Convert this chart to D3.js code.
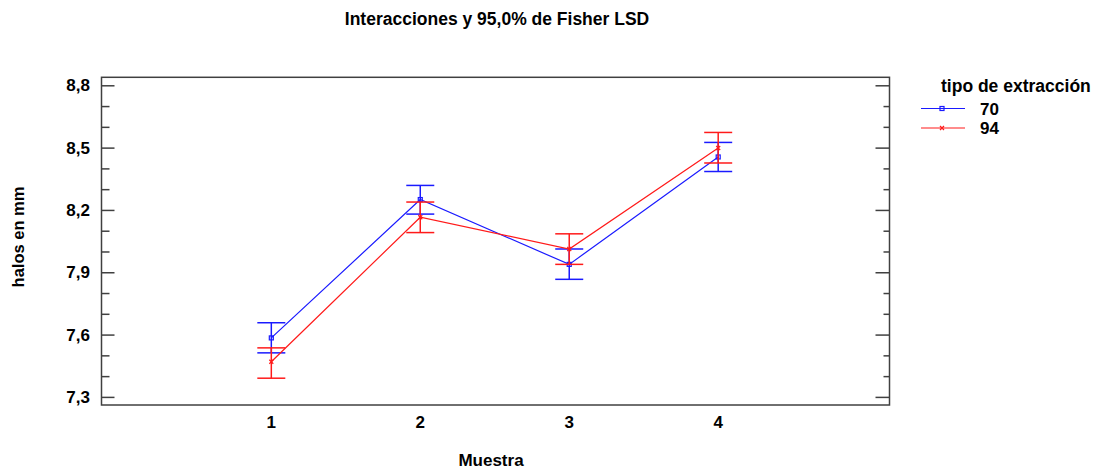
<!DOCTYPE html>
<html>
<head>
<meta charset="utf-8">
<script src="https://cdn.jsdelivr.net/npm/d3@7"></script>
<style>
  body { margin: 0; background: #fff; }
  text { font-family: "Liberation Sans", Arial, sans-serif; font-weight: bold; fill: #000; }
</style>
</head>
<body>
<svg id="chart" width="1101" height="470"></svg>
<script>
// data
const muestras = [1, 2, 3, 4]
const mean70 = [7.584, 8.250, 7.938, 8.455]
const low70 = [7.512, 8.180, 7.866, 8.385]
const high70 = [7.657, 8.318, 8.012, 8.525]
const mean94 = [7.469, 8.165, 8.012, 8.498]
const low94 = [7.390, 8.091, 7.938, 8.426]
const high94 = [7.536, 8.238, 8.085, 8.573]
const yTicks = [7.3, 7.6, 7.9, 8.2, 8.5, 8.8]

const blue = '#1a1aff', red = '#ff1a1a', axisColor = '#404040'
const svg = d3.select('#chart')

const x = d3.scaleLinear().domain([-0.14, 5.15]).range([101.5, 889.5])
const y = d3.scaleLinear().domain([7.261, 8.8385]).range([405, 77.3])

const fmt = d => d3.format('.1f')(d).replace('.', ',')

// box
svg.append('rect')
    .attr('x', x.range()[0]).attr('y', y.range()[1])
    .attr('width', x.range()[1] - x.range()[0])
    .attr('height', y.range()[0] - y.range()[1])
    .attr('fill', 'none').attr('stroke', axisColor).attr('stroke-width', 1.5)

// left and right ticks, minor every 0.1
const minor = d3.range(7.3, 8.85, 0.1).filter(v => !yTicks.some(t => Math.abs(t - v) < 1e-6))
const yAxisL = svg.append('g').attr('transform', `translate(${x.range()[0]},0)`)
yAxisL.call(d3.axisRight(y).tickValues(yTicks).tickSize(13).tickFormat(''))
yAxisL.append('g').call(d3.axisRight(y).tickValues(minor).tickSize(8).tickFormat(''))
const yAxisR = svg.append('g').attr('transform', `translate(${x.range()[1]},0)`)
yAxisR.call(d3.axisLeft(y).tickValues(yTicks).tickSize(14).tickFormat(''))
yAxisR.append('g').call(d3.axisLeft(y).tickValues(minor).tickSize(6).tickFormat(''))
svg.selectAll('.domain').remove()
svg.selectAll('.tick line').attr('stroke', axisColor).attr('stroke-width', 1.5)

svg.selectAll('text.ylab')
    .data(yTicks)
    .enter()
    .append('text')
    .attr('class', 'ylab')
    .attr('x', 90)
    .attr('y', d => y(d))
    .attr('dy', '0.36em')
    .attr('text-anchor', 'end')
    .style('font-size', '17px')
    .text(fmt)

svg.selectAll('text.xlab')
    .data(muestras)
    .enter()
    .append('text')
    .attr('class', 'xlab')
    .attr('x', d => x(d))
    .attr('y', 428)
    .attr('text-anchor', 'middle')
    .style('font-size', '17px')
    .text(d => d)

// titles
svg.append('text').attr('x', 497).attr('y', 25).attr('text-anchor', 'middle')
    .style('font-size', '17.5px').text('Interacciones y 95,0% de Fisher LSD')
svg.append('text').attr('x', 491).attr('y', 466).attr('text-anchor', 'middle')
    .style('font-size', '17px').text('Muestra')
svg.append('text').attr('transform', 'translate(24,237) rotate(-90)').attr('text-anchor', 'middle')
    .style('font-size', '16.5px').text('halos en mm')

// series
function drawSeries(means, lows, highs, color, marker) {
    const g = svg.append('g')
    g.append('path')
        .datum(muestras)
        .attr('fill', 'none')
        .attr('stroke', color)
        .attr('stroke-width', 1.2)
        .attr('d', d3.line().x(d => x(d)).y((d, i) => y(means[i])))
    const bars = g.selectAll('g.bar').data(muestras).enter().append('g')
    bars.append('line')
        .attr('x1', d => x(d)).attr('x2', d => x(d))
        .attr('y1', (d, i) => y(lows[i])).attr('y2', (d, i) => y(highs[i]))
        .attr('stroke', color).attr('stroke-width', 1.5)
    bars.append('line')
        .attr('x1', d => x(d) - 14).attr('x2', d => x(d) + 14)
        .attr('y1', (d, i) => y(lows[i])).attr('y2', (d, i) => y(lows[i]))
        .attr('stroke', color).attr('stroke-width', 1.5)
    bars.append('line')
        .attr('x1', d => x(d) - 14).attr('x2', d => x(d) + 14)
        .attr('y1', (d, i) => y(highs[i])).attr('y2', (d, i) => y(highs[i]))
        .attr('stroke', color).attr('stroke-width', 1.5)
    bars.each(function (d, i) { marker(d3.select(this), x(d), y(means[i]), color) })
}

function square(sel, cx, cy, color) {
    sel.append('rect').attr('x', cx - 2).attr('y', cy - 2).attr('width', 4).attr('height', 4)
        .attr('fill', 'none').attr('stroke', color).attr('stroke-width', 1.2)
}
function cross(sel, cx, cy, color) {
    sel.append('path').attr('d', `M${cx - 2},${cy - 2}L${cx + 2},${cy + 2}M${cx - 2},${cy + 2}L${cx + 2},${cy - 2}`)
        .attr('stroke', color).attr('stroke-width', 1.2)
}

drawSeries(mean70, low70, high70, blue, square)
drawSeries(mean94, low94, high94, red, cross)

// legend
svg.append('text').attr('x', 941).attr('y', 92).style('font-size', '17.5px').text('tipo de extracción')
const legend = [['70', blue, square], ['94', red, cross]]
legend.forEach(([label, color, marker], i) => {
    const ly = 108.5 + i * 19.5
    svg.append('line').attr('x1', 921).attr('x2', 965).attr('y1', ly).attr('y2', ly)
        .attr('stroke', color).attr('stroke-width', 1.2)
    marker(svg, 942, ly, color)
    svg.append('text').attr('x', 980).attr('y', ly).attr('dy', '0.36em')
        .style('font-size', '17px').text(label)
})
</script>
</body>
</html>
